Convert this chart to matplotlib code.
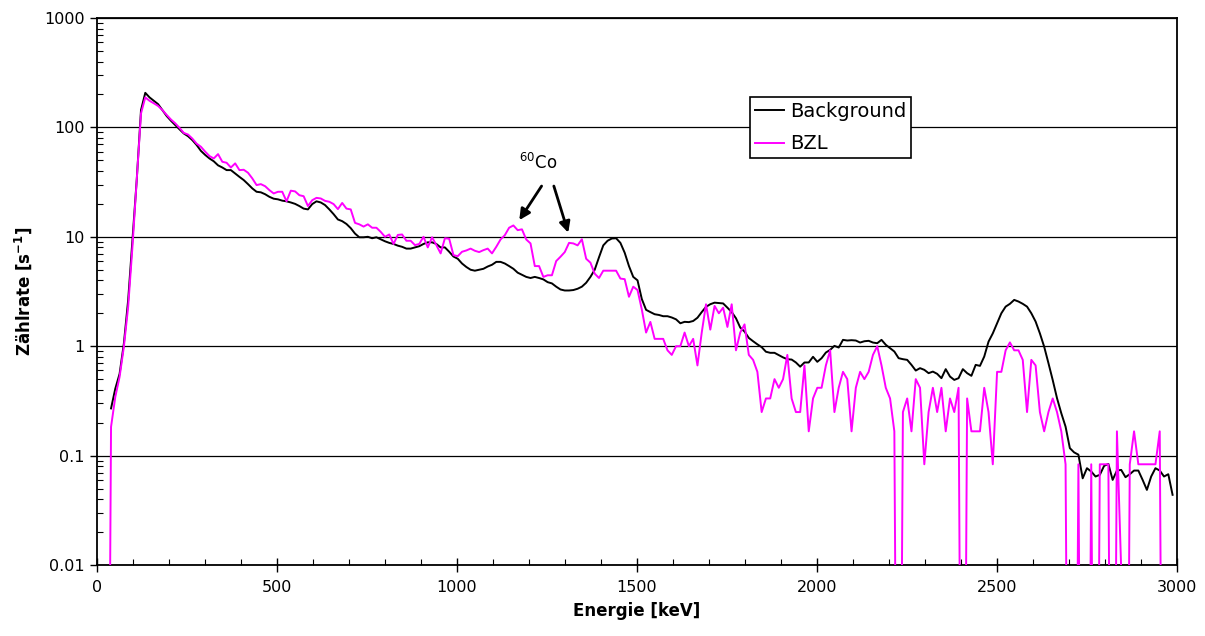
import numpy as np
import matplotlib
matplotlib.use("Agg")
import matplotlib.pyplot as plt
from matplotlib.ticker import LogLocator, MultipleLocator, FixedLocator, NullFormatter

plt.rcParams['font.family'] = ['DejaVu Sans']
plt.rcParams['mathtext.fontset'] = 'dejavusans'

# channel calibration (keV): first channel centre and channel width
e_start = 27.1
e_step = 11.89

# Background spectrum (count rate, 1/s), first channel has no value
background = [
    0.27, 0.41, 0.56, 1.06, 2.64, 9.3, 33, 144, 207, 188,
    175, 163, 144, 127, 115, 105, 96, 88, 83, 76.5,
    69, 61, 56, 52, 49, 45, 43, 40.7, 40.7, 37.9,
    35.3, 33, 30.3, 27.7, 25.8, 25.5, 24.5, 23.2, 22.3, 22,
    21.4, 21.1, 20.6, 20, 19.1, 18.1, 17.8,
    19.9, 21.1, 20.6, 19.5, 17.8, 16.1, 14.4, 13.9, 13.1, 12,
    10.7, 9.9, 9.9, 10, 9.7, 9.9, 9.5, 9.1, 8.8, 8.6,
    8.3, 8.1, 7.8, 7.8, 8.0, 8.2, 8.6, 8.9, 8.9, 8.6,
    8.0, 8.0, 7.3, 6.6, 6.3, 5.7, 5.3, 5.0, 4.9, 5.0,
    5.1, 5.35, 5.55, 5.9, 5.9, 5.7, 5.4, 5.1, 4.7, 4.5,
    4.3, 4.2, 4.3, 4.2, 4.08, 3.85, 3.75, 3.5, 3.3, 3.23,
    3.23, 3.26, 3.35, 3.5, 3.8, 4.3, 5.0, 6.5,
    8.35, 9.2, 9.65, 9.7, 8.8, 7.15, 5.4, 4.3,
    4.0, 2.7, 2.15, 2.05, 1.96, 1.93, 1.88, 1.88, 1.83, 1.76,
    1.62, 1.67, 1.66, 1.70, 1.82, 2.05, 2.29, 2.42, 2.5, 2.48,
    2.46, 2.25, 2.05, 1.8, 1.48, 1.36, 1.19, 1.11, 1.04, 0.98,
    0.89, 0.87, 0.87, 0.83, 0.79, 0.76, 0.755, 0.71, 0.65, 0.71, 0.71, 0.80, 0.72,
    0.777, 0.875, 0.926, 1.007, 0.972, 1.143, 1.127, 1.135, 1.127, 1.08,
    1.11, 1.12, 1.08, 1.065, 1.143, 1.03, 0.959, 0.894, 0.777, 0.761,
    0.75, 0.675, 0.599, 0.63, 0.608, 0.567, 0.586, 0.559, 0.51, 0.617,
    0.528, 0.492, 0.51, 0.617, 0.567, 0.536, 0.675, 0.661, 0.804, 1.10, 1.31,
    1.62, 2.0, 2.3, 2.44, 2.65, 2.56, 2.44, 2.3, 2.0, 1.68,
    1.31, 0.99, 0.70, 0.49, 0.335, 0.244, 0.184, 0.117, 0.107, 0.102,
    0.062, 0.0767, 0.0715, 0.0644, 0.0667, 0.0805, 0.084, 0.060, 0.073, 0.074,
    0.0635, 0.0676, 0.073, 0.073, 0.060, 0.0486, 0.0644, 0.0767, 0.073, 0.0644, 0.0676, 0.0438,
]

# BZL spectrum (count rate, 1/s); zero counts are 0
bzl = [
    0,
    0.183, 0.345, 0.525, 0.99, 2.29, 8.1, 33, 134, 188, 175,
    166, 157, 144, 130, 118, 109, 99, 89, 86, 79,
    71, 66.5, 60, 54.7, 52, 57, 48.5, 47.5, 43, 46.9,
    40.7, 41, 38.5, 34.2, 29.7, 30.3, 29, 26.7, 24.9, 25.8,
    25.8, 21.1, 26.4, 26, 24, 23.5, 19.1,
    21.6, 22.7, 22.4, 21.3, 20.9, 19.9, 17.9, 20.4, 18.1, 17.8,
    13.4, 13, 12.4, 13, 12.1, 12.1, 11.1, 10, 10.5, 8.6,
    10.4, 10.5, 9.2, 9.2, 8.4, 8.6, 10, 8.0, 9.9, 8.4,
    7.05, 9.7, 9.6, 6.8, 6.65, 7.3, 7.5, 7.8, 7.45, 7.25,
    7.55, 7.8, 7.05, 8.1, 9.45, 10.35, 12.1, 12.7, 11.5, 11.7,
    9.45, 8.7, 5.4, 5.4, 4.3, 4.45, 4.45, 6.0, 6.57, 7.25,
    8.8, 8.7, 8.35, 9.5, 6.3, 5.8, 4.6, 4.2,
    4.9, 4.9, 4.9, 4.9, 4.15, 4.1, 2.83, 3.5,
    3.26, 2.167, 1.333, 1.667, 1.167, 1.167, 1.167, 0.917, 0.833, 1.0,
    1.0, 1.333, 1.0, 1.167, 0.667, 1.333, 2.417, 1.417, 2.333, 2.0,
    2.25, 1.5, 2.417, 0.917, 1.333, 1.583, 0.833, 0.75, 0.583, 0.25,
    0.333, 0.333, 0.5, 0.4167, 0.5, 0.833, 0.333, 0.25, 0.25, 0.667, 0.1667, 0.333, 0.4167,
    0.4167, 0.667, 0.917, 0.25, 0.4167, 0.583, 0.5, 0.1667, 0.4167, 0.583,
    0.5, 0.583, 0.833, 1.0, 0.667, 0.4167, 0.333, 0.1667, 0, 0.25,
    0.333, 0.1667, 0.5, 0.4167, 0.0833, 0.25, 0.4167, 0.25, 0.4167, 0.1667,
    0.333, 0.25, 0.4167, 0, 0.333, 0.1667, 0.1667, 0.1667, 0.4167, 0.25, 0.0833,
    0.583, 0.583, 0.917, 1.083, 0.917, 0.917, 0.75, 0.25, 0.75, 0.667,
    0.25, 0.1667, 0.25, 0.333, 0.25, 0.1667, 0.0833, 0, 0, 0.0833,
    0, 0, 0.0833, 0, 0.0833, 0.0833, 0.0833, 0, 0.1667, 0.009,
    0, 0.0833, 0.1667, 0.0833, 0.0833, 0.0833, 0.0833, 0.0833, 0.1667, 0, 0, 0,
]

y_ticks = [0.01, 0.1, 1, 10, 100, 1000]
y_tick_labels = ['0.01', '0.1', '1', '10', '100', '1000']
x_ticks = [0, 500, 1000, 1500, 2000, 2500, 3000]

bg = np.concatenate([[np.nan], np.array(background, dtype=float)])
bz = np.array(bzl, dtype=float)
energy = e_start + e_step * np.arange(len(bz))
bz_plot = np.where(bz > 0, bz, 1e-7)

fig = plt.figure(figsize=(12.05, 6.36), dpi=100)
ax = fig.add_axes([97 / 1205, 1 - 565 / 636, 1080 / 1205, 547 / 636])

ax.plot(energy, bg, color='black', lw=1.4, label='Background', zorder=3)
ax.plot(energy, bz_plot, color='#FF00FF', lw=1.4, label='BZL', zorder=4)

ax.set_yscale('log')
ax.set_xlim(0, 3000)
ax.set_ylim(0.01, 1000)
ax.yaxis.set_major_locator(FixedLocator(y_ticks))
ax.set_yticklabels(y_tick_labels)
ax.yaxis.set_minor_locator(LogLocator(base=10, subs=np.arange(2, 10)))
ax.yaxis.set_minor_formatter(NullFormatter())
ax.set_xticks(x_ticks)
ax.set_xticklabels([str(v) for v in x_ticks])
ax.xaxis.set_minor_locator(MultipleLocator(100))

ax.yaxis.grid(True, which='major', color='black', lw=0.9)
ax.set_axisbelow(True)

ax.tick_params(axis='y', which='major', direction='out', length=5, width=1, labelsize=11.5, pad=4)
ax.tick_params(axis='y', which='minor', direction='in', length=4, width=0.8)
ax.tick_params(axis='x', which='major', direction='inout', length=10, width=1, labelsize=11.5, pad=6)
ax.tick_params(axis='x', which='minor', direction='in', length=4, width=0.8)
for s in ax.spines.values():
    s.set_linewidth(1.3)

ax.set_xlabel('Energie [keV]', fontweight='bold', fontsize=12, labelpad=5)
ax.set_ylabel(r'Zählrate [s$^{\mathbf{-1}}$]', fontweight='bold', fontsize=12, labelpad=7)

leg = ax.legend(loc='upper left', bbox_to_anchor=(0.6046, 0.8556), frameon=True,
                fancybox=False, edgecolor='black', framealpha=1, fontsize=14,
                handlelength=1.5, borderpad=0.25, labelspacing=0.7, handletextpad=0.3,
                borderaxespad=0)
leg.get_frame().set_linewidth(1.2)

ax.text(1225, 47.2, r'$^{60}$Co', ha='center', va='center', fontsize=12)
arrow = dict(arrowstyle='-|>', color='black', lw=2, mutation_scale=16, shrinkA=0, shrinkB=0)
ax.annotate('', xy=(1173, 14.2), xytext=(1235, 29.1), arrowprops=arrow)
ax.annotate('', xy=(1309, 10.9), xytext=(1269, 29.1), arrowprops=arrow)

fig.savefig('out.png', dpi=100)
